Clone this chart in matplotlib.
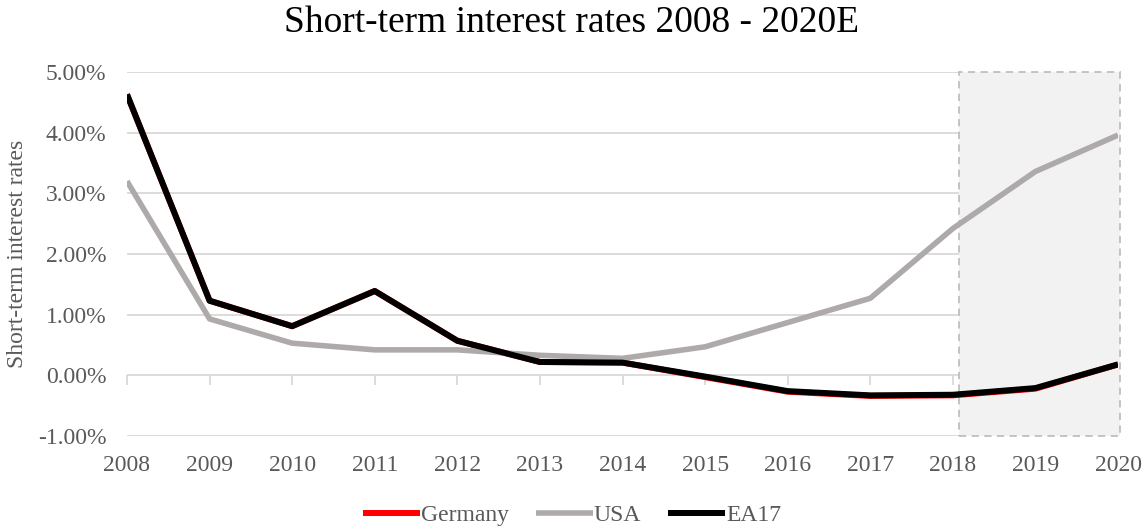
import matplotlib
matplotlib.use("Agg")
import matplotlib.pyplot as plt
from matplotlib.patches import Rectangle
from matplotlib.ticker import FuncFormatter, NullFormatter

years = [2008, 2009, 2010, 2011, 2012, 2013, 2014, 2015, 2016, 2017, 2018, 2019, 2020]
germany = [4.63, 1.23, 0.81, 1.39, 0.57, 0.22, 0.21, -0.03, -0.27, -0.34, -0.33, -0.22, 0.18]
usa = [3.20, 0.93, 0.53, 0.42, 0.42, 0.33, 0.28, 0.47, 0.87, 1.27, 2.42, 3.36, 3.96]
ea17 = [4.63, 1.23, 0.81, 1.39, 0.57, 0.22, 0.21, -0.02, -0.26, -0.33, -0.32, -0.21, 0.18]
y_ticks = [-1, 0, 1, 2, 3, 4, 5]

plt.rcParams['font.family'] = ['Liberation Serif', 'DejaVu Serif']
TEXT = '#595959'
GRID = '#d9d9d9'
FS = 17

fig = plt.figure(figsize=(11.44, 5.31), dpi=100)
ax = fig.add_axes([127/1144, 1 - 436/531, (1118 - 127)/1144, (436 - 72)/531])

# forecast period shading
ax.add_patch(Rectangle((2018.08, -1), 2020.02 - 2018.08, 6, facecolor='#f2f2f2',
                       edgecolor='#bfbfbf', linestyle=(0, (4, 3)), linewidth=1.3, zorder=1,
                       clip_on=False))

ax.plot(years, germany, color='#ff0000', linewidth=4.3, label='Germany', zorder=3,
        solid_joinstyle='round', solid_capstyle='butt')
ax.plot(years, usa, color='#aeaaaa', linewidth=4.0, label='USA', zorder=3,
        solid_joinstyle='round', solid_capstyle='butt')
ax.plot(years, ea17, color='#000000', linewidth=4.3, label='EA17', zorder=4,
        solid_joinstyle='round', solid_capstyle='butt')

ax.set_xlim(2008, 2020)
ax.set_ylim(-1, 5)
ax.set_yticks(y_ticks)
ax.yaxis.set_major_formatter(FuncFormatter(lambda v, p: f"{v:.2f}%"))
ax.set_xticks(years)
ax.set_xticklabels([str(y) for y in years])
ax.grid(axis='y', color=GRID, linewidth=1.3, zorder=0)
ax.set_axisbelow(True)
for s in ax.spines.values():
    s.set_visible(False)
ax.tick_params(axis='both', length=0, labelsize=FS, colors=TEXT)
ax.tick_params(axis='y', pad=15)
ax.tick_params(axis='x', pad=14)

# category axis line at zero with outward ticks
sec = ax.secondary_xaxis(1/6)
sec.set_xticks(years)
sec.xaxis.set_major_formatter(NullFormatter())
sec.tick_params(axis='x', direction='out', length=7, width=1.3, color=GRID)
for s in sec.spines.values():
    s.set_visible(False)

ax.set_ylabel('Short-term interest rates', fontsize=FS, color=TEXT)
ax.yaxis.set_label_coords(-0.100, 0.5)

fig.suptitle('Short-term interest rates 2008 - 2020E', fontsize=27, color='#000000', y=0.99)

leg = fig.legend(loc='center', bbox_to_anchor=(0.5, 1 - 515/531), ncol=3, frameon=False,
                 fontsize=FS, handlelength=2.4, handletextpad=0.05, columnspacing=1.15)
for t in leg.get_texts():
    t.set_color(TEXT)

fig.savefig('out.png', dpi=100)
